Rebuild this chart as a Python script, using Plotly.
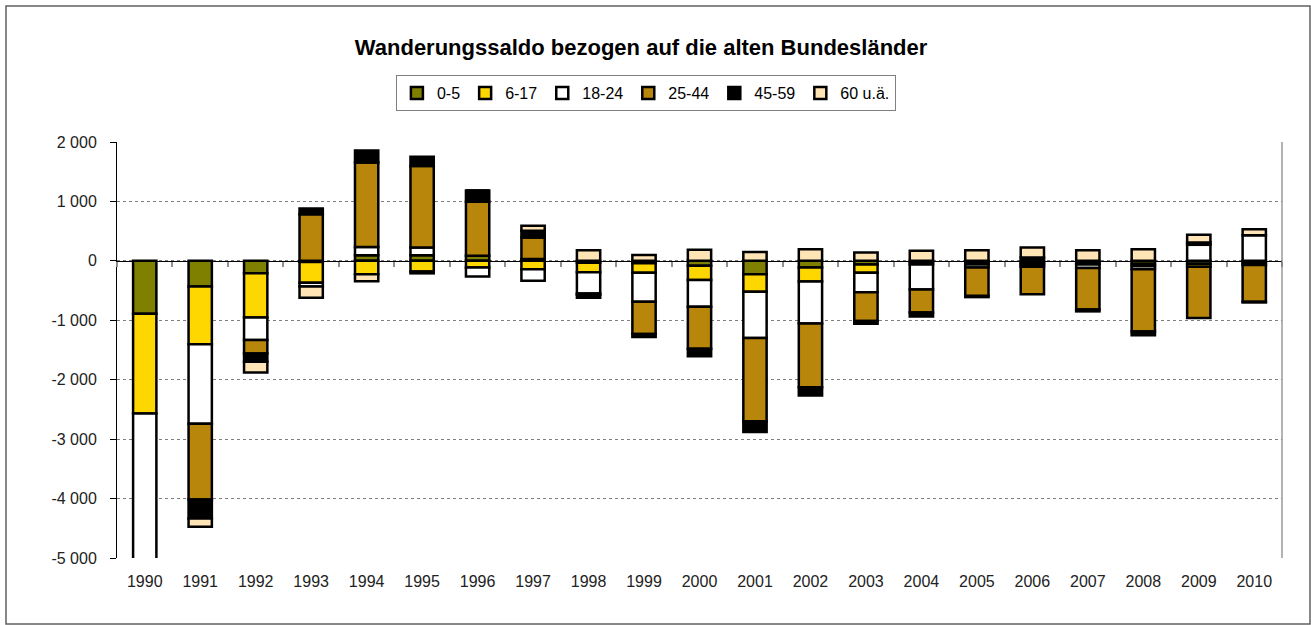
import plotly.graph_objects as go

# Jahre (Kategorien der x-Achse)
years = [str(y) for y in range(1990, 2011)]

# Wanderungssaldo nach Altersgruppen (Personen)
age_0_5 = [-890, -430, -207, -20, 95, 95, 84, 30, -30, -40, -84, -224, -112, -60, -20, -40, -40, -40, -50, -50, -30]
age_6_17 = [-1680, -975, -745, -350, -225, -180, -112, -140, -160, -160, -240, -296, -235, -140, -40, -20, -20, -20, -40, -50, -40]
age_18_24 = [-2700, -1335, -380, -60, 140, 130, -150, -196, -360, -490, -447, -777, -705, -330, -420, -50, -40, -60, -50, 270, 430]
age_25_44 = [-2400, -1275, -225, 783, 1420, 1370, 911, 364, -20, -540, -710, -1404, -1074, -480, -390, -480, -460, -700, -1050, -860, -620]
age_45_59 = [-450, -320, -140, 100, 200, 157, 190, 112, -50, -50, -123, -179, -140, -50, -67, -20, 55, -30, -60, 40, -10]
age_60_plus = [-250, -140, -180, -190, -120, -30, 0, 85, 179, 100, 185, 151, 196, 140, 168, 179, 170, 179, 196, 130, 100]

series_names = ["0-5", "6-17", "18-24", "25-44", "45-59", "60 u.ä."]
series_values = [age_0_5, age_6_17, age_18_24, age_25_44, age_45_59, age_60_plus]
series_colors = ["#808000", "#FFD700", "#FFFFFF", "#B8860B", "#000000", "#FFE4B5"]

y_ticks = [-5000, -4000, -3000, -2000, -1000, 0, 1000, 2000]
y_tick_labels = ["-5 000", "-4 000", "-3 000", "-2 000", "-1 000", "0", "1 000", "2 000"]

FONT = "Liberation Sans, Arial, sans-serif"

fig = go.Figure()
for name, vals, col in zip(series_names, series_values, series_colors):
    fig.add_trace(go.Bar(
        x=years, y=vals, name=name,
        marker=dict(color=col, line=dict(color="#000000", width=2.5)),
    ))

# Nulllinie mit Teilstrichen zwischen den Jahren
boundaries = [i - 0.5 for i in range(len(years) + 1)]
fig.add_trace(go.Scatter(x=[], y=[], xaxis="x2", showlegend=False, hoverinfo="skip"))

fig.update_layout(
    width=1311, height=625,
    autosize=False,
    barmode="relative",
    bargap=0.58,
    paper_bgcolor="white",
    plot_bgcolor="white",
    margin=dict(l=117, r=29, t=142, b=67),
    font=dict(family=FONT, size=16, color="#222222"),
    title=dict(
        text="<b>Wanderungssaldo bezogen auf die alten Bundesländer</b>",
        font=dict(family=FONT, size=22, color="#000000"),
        x=0.489, xref="container", xanchor="center",
        y=1 - 47 / 625, yref="container", yanchor="middle",
    ),
    legend=dict(
        orientation="h",
        x=0.454, xanchor="center",
        y=1.161, yanchor="top",
        bordercolor="#808080", borderwidth=1,
        font=dict(family=FONT, size=16, color="#000000"),
        traceorder="normal",
        itemclick=False,
        itemwidth=30,
    ),
    xaxis=dict(
        type="category",
        range=[-0.5, len(years) - 0.5],
        showgrid=False, zeroline=False, showline=False,
        ticks="", ticklabelstandoff=12,
        tickfont=dict(family=FONT, size=16, color="#222222"),
    ),
    xaxis2=dict(
        overlaying="x", anchor="free",
        position=(0 - y_ticks[0]) / (y_ticks[-1] - y_ticks[0]),
        range=[-0.5, len(years) - 0.5],
        showline=True, linecolor="#000000", linewidth=1.2,
        ticks="outside", ticklen=5, tickcolor="#909090", tickwidth=1.5,
        tickvals=boundaries, showticklabels=False,
        showgrid=False, zeroline=False,
    ),
    yaxis=dict(
        range=[y_ticks[0], y_ticks[-1]],
        tickvals=y_ticks, ticktext=y_tick_labels,
        showgrid=True, gridcolor="#808080", griddash="dot", gridwidth=1,
        zeroline=False,
        showline=True, linecolor="#000000", linewidth=1,
        ticks="outside", ticklen=6, tickcolor="#000000",
        ticklabelstandoff=10,
        tickfont=dict(family=FONT, size=16, color="#222222"),
    ),
    shapes=[
        # rechter Rand der Zeichenfläche
        dict(type="line", xref="paper", yref="paper", x0=1, x1=1, y0=0, y1=1,
             line=dict(color="#808080", width=1.2)),
        # Rahmen um das gesamte Diagramm
        dict(type="rect", xref="paper", yref="paper",
             x0=(6 - 117) / 1165, x1=(1310 - 117) / 1165,
             y0=(558 - 624) / 416, y1=(558 - 6) / 416,
             line=dict(color="#606060", width=1.5), layer="below"),
    ],
)

fig.write_html("out.html")
